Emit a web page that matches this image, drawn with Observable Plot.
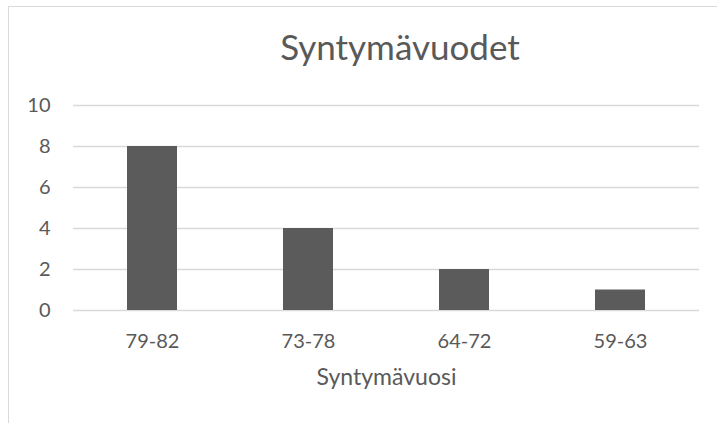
<!DOCTYPE html>
<html><head><meta charset="utf-8">
<script src="https://cdn.jsdelivr.net/npm/d3@7"></script>
<script src="https://cdn.jsdelivr.net/npm/@observablehq/plot@0.6"></script>
<style>
body{margin:0;background:#fff;overflow:hidden;}
#wrap{position:relative;width:717px;height:423px;}
#frame{position:absolute;left:8px;top:6px;width:760px;height:480px;border:1.5px solid #d9d9d9;box-sizing:border-box;}
#chart{position:absolute;left:0;top:0;}
#title{position:absolute;left:0;width:800px;top:25px;text-align:center;font:35px Lato, "Open Sans", sans-serif;color:#595959;}
</style></head>
<body>
<div id="wrap"><div id="frame"></div><div id="chart"></div><div id="title"></div></div>
<script>
const title = "Syntymävuodet";
const categories = ["79-82", "73-78", "64-72", "59-63"];
const values = [8, 4, 2, 1];
const yTicks = [0, 2, 4, 6, 8, 10];
const xLabel = "Syntymävuosi";

const data = categories.map((c, i) => ({cat: c, v: values[i]}));
const ink = "#595959";
const plot = Plot.plot({
  width: 717, height: 423,
  marginLeft: 73, marginRight: 18, marginTop: 105, marginBottom: 113,
  style: {fontFamily: "Lato, 'Open Sans', sans-serif", fontSize: "20px", color: ink, background: "transparent"},
  x: {domain: categories, paddingInner: 0.68, paddingOuter: 0.34, label: null},
  y: {domain: [0, 10], ticks: yTicks, label: null},
  marks: [
    Plot.gridY(yTicks, {stroke: "#d9d9d9", strokeOpacity: 1, strokeWidth: 1.3}),
    Plot.barY(data, {x: "cat", y: "v", fill: "#5b5b5b"}),
    Plot.axisY({ticks: yTicks, tickSize: 0, tickPadding: 23, fontSize: 20, fill: ink}),
    Plot.axisX({tickSize: 0, tickPadding: 23, fontSize: 20, fill: ink}),
    Plot.text([xLabel], {text: d => d, frameAnchor: "bottom", dy: 74, fontSize: 23, fill: ink})
  ]
});
document.getElementById("chart").appendChild(plot);
document.getElementById("title").textContent = title;
</script>
</body></html>
